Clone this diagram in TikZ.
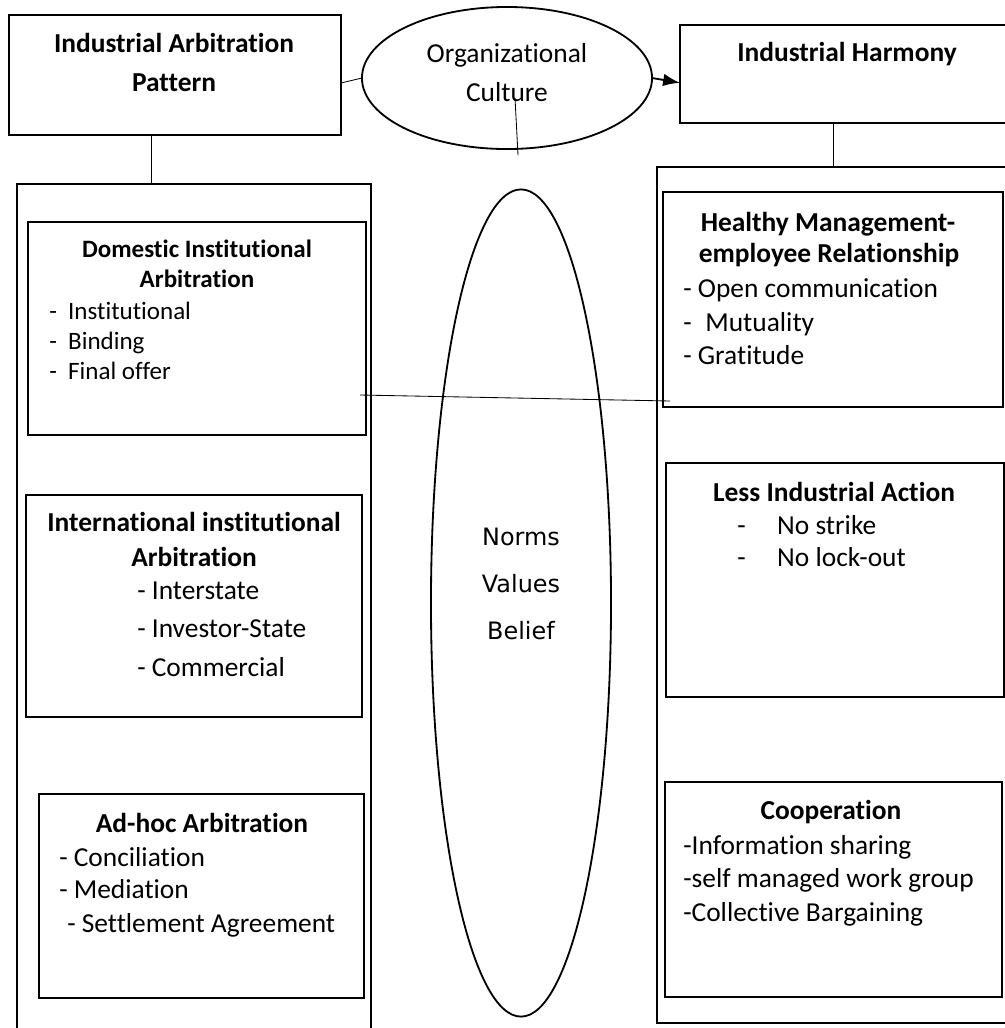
\documentclass[tikz,border=0pt]{standalone}
\usepackage{fontspec}
\setmainfont{Carlito}[Ligatures=NoCommon]
\newfontfamily\nvbfont{DejaVu Sans}
\usetikzlibrary{fit,shapes.geometric,arrows.meta}

\begin{document}
\begin{tikzpicture}[x=0.025cm, y=-0.025cm,
  frame/.style={draw, line width=1.4pt, inner sep=0pt, outer sep=0pt},
  oval/.style={draw, ellipse, line width=1.3pt, inner sep=0pt, outer sep=0pt},
  link/.style={line width=0.6pt},
  head/.style={inner sep=0pt, yshift=-0.15cm, font=\fontsize{19.5}{23}\selectfont\bfseries, text height=0.66em, text depth=0.2em},
  smallhead/.style={head, font=\fontsize{17.8}{21}\selectfont\bfseries},
  item/.style={inner sep=0pt, yshift=-0.15cm, anchor=west, font=\fontsize{19.5}{23}\selectfont, text height=0.66em, text depth=0.2em},
  smallitem/.style={item, font=\fontsize{17.8}{21}\selectfont},
  nvb/.style={inner sep=0pt, font=\nvbfont\fontsize{17}{20}\selectfont}]
\useasboundingbox (0,0) rectangle (1005,1028);
\clip (0,0) rectangle (1005,1028);

\node[frame, fit={(9,15) (341,135)}] (ap) {};
\node[oval, minimum width=7.25cm, minimum height=3.55cm] (org) at (507,78) {};
\node[frame, fit={(680,25) (1015,123)}] (ih) {};

\node[frame, fit={(17,184) (371,1040)}] (lo) {};
\node[frame, fit={(28,222) (366,435)}] (dom) {};
\node[frame, fit={(26,495) (362,717)}] (intl) {};
\node[frame, fit={(39,794) (364,998)}] (adhoc) {};

\node[frame, fit={(657,167) (1015,1023)}] (ro) {};
\node[frame, fit={(663,192) (1003,407)}] (hm) {};
\node[frame, fit={(666,463) (1004,697)}] (lia) {};
\node[frame, fit={(665,782) (1002,997)}] (coop) {};

\node[oval, minimum width=4.5cm, minimum height=20.675cm] (vals) at (521,603) {};

\node[head] at (174,43) {Industrial Arbitration};
\node[head] at (174,82) {Pattern};
\node[head, font=\fontsize{19.5}{23}\selectfont] at (507,53) {Organizational};
\node[head, font=\fontsize{19.5}{23}\selectfont] at (507,92) {Culture};
\node[head] at (847,52) {Industrial Harmony};

\node[smallhead] at (197,248) {Domestic Institutional};
\node[smallhead] at (197,278) {Arbitration};
\node[smallitem] at (49,310) {-\hspace{0.45em}Institutional};
\node[smallitem] at (49,340) {-\hspace{0.45em}Binding};
\node[smallitem] at (49,370) {-\hspace{0.45em}Final offer};

\node[head] at (194,522) {International institutional};
\node[head] at (194,557) {Arbitration};
\node[item] at (137,590) {- Interstate};
\node[item] at (137,628) {- Investor-State};
\node[item] at (137,667) {- Commercial};

\node[head] at (202,823) {Ad-hoc Arbitration};
\node[item] at (59,857) {- Conciliation};
\node[item] at (59,889) {- Mediation};
\node[item] at (67,923) {- Settlement Agreement};

\node[head] at (828,222) {Healthy Management-};
\node[head] at (829,253) {employee Relationship};
\node[item] at (683,288) {- Open communication};
\node[item] at (683,322) {-\hspace{0.5em}Mutuality};
\node[item] at (683,355) {- Gratitude};

\node[head] at (834,492) {Less Industrial Action};
\node[item] at (737,525) {-\hspace{1.15em}No strike};
\node[item] at (737,557) {-\hspace{1.15em}No lock-out};

\node[head] at (831,810) {Cooperation};
\node[item] at (683,845) {-Information sharing};
\node[item] at (683,878) {-self managed work group};
\node[item] at (683,912) {-Collective Bargaining};

\node[nvb] at (521,537) {Norms};
\node[nvb] at (521,584) {Values};
\node[nvb] at (521,631) {Belief};

\coordinate (apfoot) at (151,135);
\coordinate (ihfoot) at (833,123);
\coordinate (cultop) at (515,98);
\coordinate (culend) at (518,155);
\coordinate (domlink) at (360,395);
\coordinate (hmlink) at (670,401);

\draw[link] ([yshift=-0.2cm]ap.east) -- (org.west);
\draw[line width=1.3pt, -{Latex[length=12pt,width=9pt]}] (org.east) -- ([yshift=-0.22cm]ih.west);
\draw[link] (apfoot) -- (apfoot |- lo.north);
\draw[link] (ihfoot) -- (ihfoot |- ro.north);
\draw[link] (cultop) -- (culend);
\draw[link] (domlink) -- (hmlink);
\end{tikzpicture}
\end{document}
